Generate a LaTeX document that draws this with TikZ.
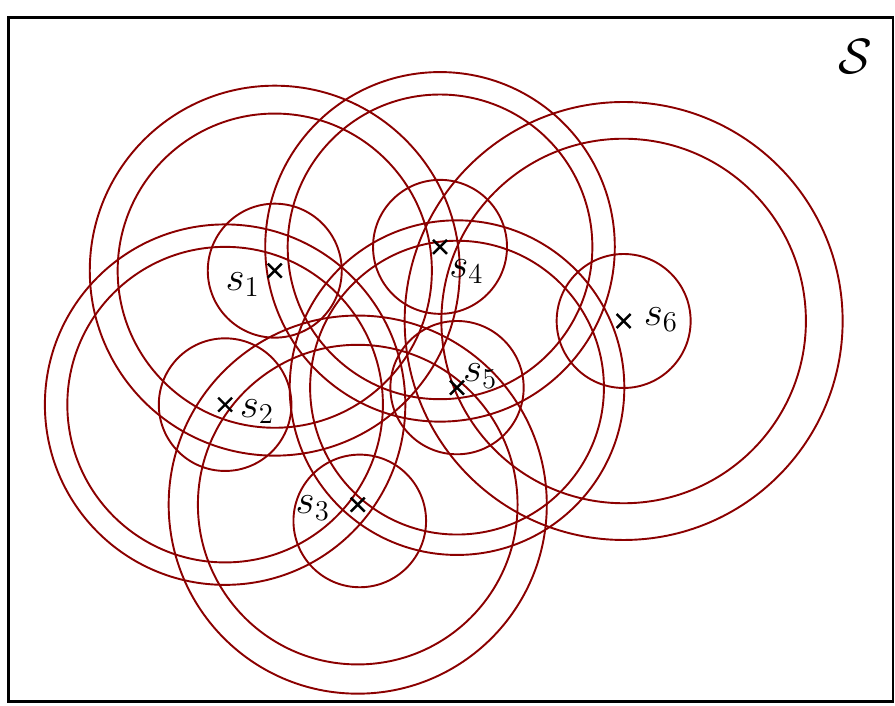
\documentclass[tikz,border=0pt]{standalone}
\usepackage{amsmath,amssymb}
\usetikzlibrary{shapes.misc,positioning}
\definecolor{RingRed}{RGB}{139,0,0}
\newcommand{\rings}[4]{\draw[ring] (#1) circle (#2);
  \draw[ring] (#1) circle (#3);
  \draw[ring] (#1) circle (#4);}

\begin{document}
\begin{tikzpicture}[
  sensor/.style={cross out, draw=black, line width=1pt,
    minimum size=0.17cm, inner sep=0pt},
  lbl/.style={font=\LARGE, inner sep=1pt},
  ring/.style={draw=RingRed, line width=0.8pt},
]
\useasboundingbox (-0.13,-0.05) rectangle (13.03,10.32);

% Region
\draw[line width=1.2pt] (0,0) rectangle (13,10.06);
\node[font=\huge] (space) at (12.44,9.49) {$\mathcal{S}$};

%% ── Sensor positions ─────────────────────────────────────────────────────
\coordinate (c1) at (3.91,6.34);
\coordinate (c2) at (3.18,4.37);
\coordinate (c3) at (5.13,2.90);
\coordinate (c4) at (6.34,6.69);
\coordinate (c5) at (6.59,4.62);
\coordinate (c6) at (9.04,5.60);
\coordinate (c3in) at (5.16,2.66);

%% ── Range rings ──────────────────────────────────────────────────────────
\rings{c1}{0.985}{2.31}{2.72}
\rings{c2}{0.975}{2.32}{2.65}
\draw[ring] (c3in) circle (0.975);
\draw[ring] (c3) circle (2.35);
\draw[ring] (c3) circle (2.78);
\rings{c4}{0.985}{2.24}{2.57}
\rings{c5}{0.980}{2.16}{2.46}
\rings{c6}{0.985}{2.68}{3.22}

%% ── Sensors ──────────────────────────────────────────────────────────────
\node[sensor] (s1) at (c1) {};
\node[sensor] (s2) at (c2) {};
\node[sensor] (s3) at (c3) {};
\node[sensor] (s4) at (c4) {};
\node[sensor] (s5) at (c5) {};
\node[sensor] (s6) at (c6) {};

\node[lbl] (s1lab) at (3.44,6.13) {$s_1$};
\node[lbl] (s2lab) at (3.65,4.27) {$s_2$};
\node[lbl] (s3lab) at (4.47,2.85) {$s_3$};
\node[lbl] (s4lab) at (6.73,6.33) {$s_4$};
\node[lbl] (s5lab) at (6.93,4.79) {$s_5$};
\node[lbl] (s6lab) at (9.59,5.62) {$s_6$};

\end{tikzpicture}
\end{document}
